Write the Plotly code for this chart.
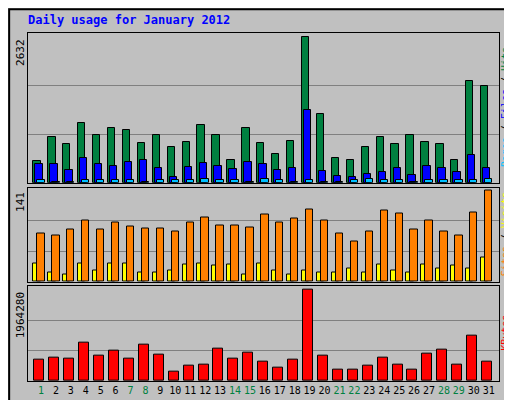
import plotly.graph_objects as go

days = list(range(1, 32))
weekend = [1, 7, 8, 14, 15, 21, 22, 28, 29]
hits = [389, 818, 693, 1069, 854, 979, 943, 711, 854, 639, 729, 1033, 854, 406, 979, 711,
        514, 747, 2632, 1248, 442, 406, 639, 818, 693, 854, 729, 693, 406, 1839, 1749]
files = [335, 335, 227, 442, 335, 299, 370, 406, 263, 102, 281, 353, 299, 245, 370, 335,
         227, 263, 1319, 209, 120, 102, 156, 191, 263, 138, 299, 263, 191, 496, 263]
pages = [45, 15, 15, 45, 45, 45, 45, 15, 40, 45, 45, 70, 45, 45, 15, 70,
         45, 15, 45, 15, 15, 45, 70, 45, 45, 15, 45, 45, 45, 45, 70]
sites = [28, 14, 12, 29, 17, 29, 28, 15, 15, 17, 26, 29, 25, 26, 12, 29,
         17, 12, 18, 15, 15, 21, 15, 26, 18, 15, 26, 20, 25, 20, 38]
visits = [75, 72, 81, 94, 81, 92, 86, 83, 83, 78, 92, 100, 87, 87, 84, 104,
          92, 98, 112, 95, 75, 63, 78, 110, 106, 81, 94, 78, 72, 107, 141]
kbytes = [458800, 501800, 480300, 824400, 544800, 652400, 480300, 781400, 566300, 200700,
          329800, 351300, 695400, 480300, 609400, 415800, 286800, 458800, 1964280, 544800,
          243700, 243700, 329800, 501800, 351300, 243700, 587900, 673900, 351300, 975000, 415800]

FONT = "DejaVu Sans Mono"
line = dict(color="black", width=1)
fig = go.Figure()

def bars(vals, off, w, color, xa, ya):
    fig.add_trace(go.Bar(x=[d + off for d in days], y=vals, width=w, marker=dict(color=color, line=line),
                         xaxis=xa, yaxis=ya, showlegend=False))

bars(hits, -0.27, 0.49, "#008040", "x", "y")
bars(files, -0.13, 0.49, "#0000ff", "x", "y")
bars(pages, 0.0, 0.49, "#00c0ff", "x", "y")
bars(sites, -0.27, 0.49, "#ffff00", "x2", "y2")
bars(visits, 0.0, 0.49, "#ff8000", "x2", "y2")
bars(kbytes, -0.11, 0.67, "#ff0000", "x3", "y3")

xr = [0.13, 31.69]
ticktext = [f"<span style='color:#008040'>{d}</span>" if d in weekend else str(d) for d in days]
common_x = dict(range=xr, showgrid=False, zeroline=False, showline=True, linecolor="black", mirror=True, ticks="")
doms = {"y": [0.570, 1.0], "y2": [0.285, 0.556], "y3": [0.0, 0.274]}
maxes = {"y": 2632, "y2": 141, "y3": 1964280}
fac = {"y": 151 / 147, "y2": 95 / 92, "y3": 95.4 / 91.3}

layout = dict(
    width=512, height=400, paper_bgcolor="#c0c0c0", plot_bgcolor="#c0c0c0",
    margin=dict(l=20, r=21, t=25, b=24), barmode="overlay", bargap=0,
    font=dict(family=FONT, size=10, color="black"),
    xaxis=dict(**common_x, anchor="y", showticklabels=False),
    xaxis2=dict(**common_x, anchor="y2", showticklabels=False),
    xaxis3=dict(**common_x, anchor="y3", tickvals=days, ticktext=ticktext, tickangle=0,
                tickfont=dict(size=10, family=FONT)),
)
for k in ["y", "y2", "y3"]:
    m = maxes[k]
    name = "yaxis" if k == "y" else "yaxis" + k[1]
    layout[name] = dict(domain=doms[k], range=[0, m * fac[k]], tickvals=[m / 3, 2 * m / 3],
                        showticklabels=False, gridcolor="#808080", gridwidth=1, zeroline=False,
                        showline=True, linecolor="black", mirror=True, ticks="")
fig.update_layout(**layout)

for k in ["y", "y2", "y3"]:
    fig.add_annotation(text=str(maxes[k]), x=0, xref="paper", y=maxes[k], yref=k, textangle=-90,
                       xanchor="right", yanchor="top", showarrow=False, xshift=1,
                       font=dict(family=FONT, size=11, color="black"))

fig.add_annotation(text="<b>Daily usage for January 2012</b>", x=0, xref="paper", y=1, yref="paper",
                   showarrow=False, xanchor="left", yanchor="bottom", xshift=-2, yshift=4,
                   font=dict(family=FONT, size=12, color="#0000ff"))

side = [
    ("<span style='color:#00c0ff'>Pages</span> / <span style='color:#0000ff'>Files</span> / <span style='color:#008040'>Hits</span>", 0.785),
    ("<span style='color:#ff8000'>Sites</span> / <span style='color:#ffff00'>Visits</span>", 0.42),
    ("<span style='color:#ff0000'>KBytes</span>", 0.137),
]
for txt, yy in side:
    fig.add_annotation(text=txt, x=1, xref="paper", y=yy, yref="paper", textangle=-90, showarrow=False,
                       xanchor="left", yanchor="middle", xshift=0, borderpad=0,
                       font=dict(family=FONT, size=10))

fig.add_shape(type="rect", xref="paper", yref="paper", x0=-0.04, x1=1.04, y0=-0.065, y1=1.068,
              line=dict(color="black", width=2), layer="below")

fig.write_html("out.html")
